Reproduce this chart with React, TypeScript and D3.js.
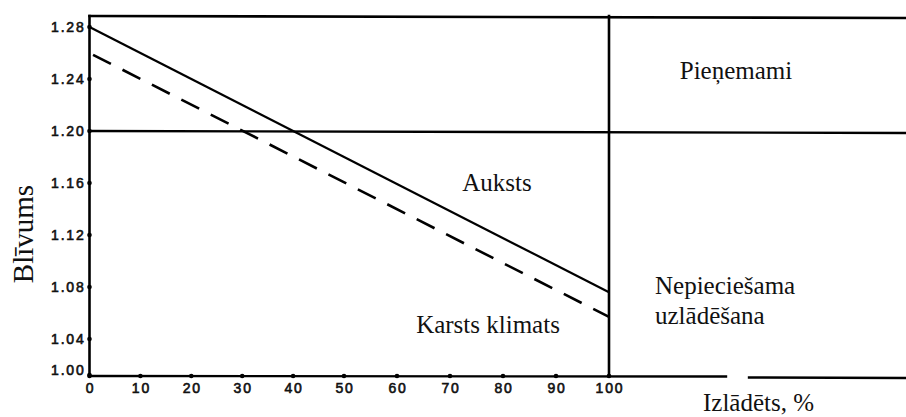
import React from "react";
import * as d3 from "d3";

const xTicks = [0, 10, 20, 30, 40, 50, 60, 70, 80, 90, 100];
const yTicks = [1.0, 1.04, 1.08, 1.12, 1.16, 1.2, 1.24, 1.28];
const xPercent = [0, 100];
const coldValues = [1.28, 1.076];
const hotValues = [1.26, 1.057];
const thresholdValue = 1.2;
const yLabel = "Blīvums";
const xLabel = "Izlādēts, %";
const regionAccept = "Pieņemami";
const regionCold = "Auksts";
const regionHot = "Karsts klimats";
const regionCharge = ["Nepieciešama", "uzlādēšana"];

const W = 906;
const H = 417;

export default function App() {
  // piecewise scales reproduce the slight distortion of the scanned original
  const x = d3.scaleLinear().domain([0, 50, 100]).range([89.5, 344, 609]);
  const y = d3.scaleLinear().domain([1.0, 1.04, 1.28]).range([375, 339, 27]);

  const cold = xPercent.map((p, i) => [p, coldValues[i]] as [number, number]);
  const hot = xPercent.map((p, i) => [p, hotValues[i]] as [number, number]);
  const line = d3
    .line<[number, number]>()
    .x((d) => x(d[0]))
    .y((d) => y(d[1]));

  const x0 = x(0);
  const x100 = x(100);
  const top = 16;
  const bottom = y(1.0) + 1;
  const tickFont = {
    fontFamily: "'Liberation Sans', Arial, sans-serif",
    fontSize: 14,
    letterSpacing: 1.8,
    fill: "#111",
    stroke: "#111",
    strokeWidth: 0.6,
  } as const;
  const serif = "'Liberation Serif', 'Times New Roman', serif";

  return (
    <svg
      width={W}
      height={H}
      style={{ position: "absolute", left: 0, top: 0, background: "#fff" }}
    >
      <g stroke="#000" fill="none" strokeLinecap="square">
        <line x1={x0} y1={top} x2={W} y2={top + 2} strokeWidth={2.6} />
        <line
          x1={x0}
          y1={y(thresholdValue)}
          x2={W}
          y2={y(thresholdValue) + 2}
          strokeWidth={2.4}
        />
        <line x1={x0} y1={top} x2={x0} y2={bottom} strokeWidth={2.6} />
        <line x1={x100} y1={top} x2={x100} y2={bottom} strokeWidth={2.6} />
        <line x1={x0} y1={bottom} x2={726} y2={bottom + 0.5} strokeWidth={2.4} />
        <line x1={749} y1={bottom + 1.5} x2={W} y2={bottom + 2} strokeWidth={2.4} />
      </g>

      <path d={line(cold) || ""} stroke="#000" strokeWidth={2.2} fill="none" />
      <path
        d={line(hot) || ""}
        stroke="#000"
        strokeWidth={2.6}
        fill="none"
        strokeDasharray="20 13"
        strokeDashoffset={-4}
      />

      {yTicks.map((t) => (
        <circle key={"yd" + t} cx={x0} cy={y(t)} r={2.3} fill="#000" />
      ))}
      {xTicks.map((t) => (
        <circle key={"xd" + t} cx={x(t)} cy={bottom} r={2.3} fill="#000" />
      ))}

      {yTicks.map((t) => (
        <text
          key={"yl" + t}
          x={x0 - 4}
          y={t === 1.0 ? y(t) : y(t) + 5}
          textAnchor="end"
          {...tickFont}
        >
          {t.toFixed(2)}
        </text>
      ))}
      {xTicks.map((t) => (
        <text
          key={"xl" + t}
          x={x(t) + 1}
          y={393}
          textAnchor="middle"
          {...tickFont}
        >
          {t}
        </text>
      ))}

      <text
        transform={`translate(33, 234) rotate(-90)`}
        textAnchor="middle"
        fontFamily={serif}
        fontSize={29}
        fill="#111"
      >
        {yLabel}
      </text>
      <text x={703} y={411} fontFamily={serif} fontSize={25} fill="#111">
        {xLabel}
      </text>

      <text x={736} y={79} textAnchor="middle" fontFamily={serif} fontSize={25} fill="#111">
        {regionAccept}
      </text>
      <text x={497} y={191} textAnchor="middle" fontFamily={serif} fontSize={25} fill="#111">
        {regionCold}
      </text>
      <text x={488} y={333} textAnchor="middle" fontFamily={serif} fontSize={25} fill="#111">
        {regionHot}
      </text>
      <text x={655} y={294} fontFamily={serif} fontSize={25} fill="#111">
        {regionCharge[0]}
      </text>
      <text x={655} y={324} fontFamily={serif} fontSize={25} fill="#111">
        {regionCharge[1]}
      </text>
    </svg>
  );
}
